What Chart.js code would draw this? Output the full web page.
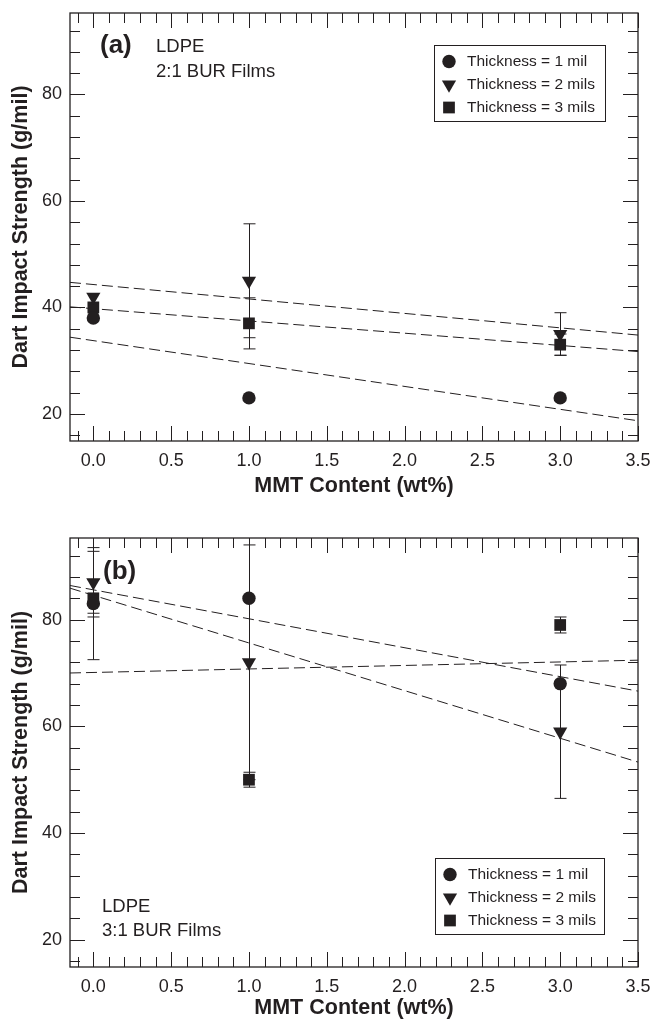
<!DOCTYPE html>
<html>
<head>
<meta charset="utf-8">
<script src="https://cdn.jsdelivr.net/npm/chart.js@4.4.1/dist/chart.umd.min.js"></script>
<style>
  html, body { margin: 0; padding: 0; background: #fff; }
  #wrap { position: relative; width: 653px; height: 1021px; }
  canvas { position: absolute; left: 0; }
  #chartA { top: 0; }
  #chartB { top: 500px; }
</style>
</head>
<body>
<div id="wrap">
  <canvas id="chartA" width="653" height="500"></canvas>
  <canvas id="chartB" width="653" height="521"></canvas>
</div>
<script>
// MMT loading (wt%)
const mmtContent = [0, 1, 3];

// (a) 2:1 BUR films
const burA_1mil = [38, 23, 23];
const burA_2mil = [42, 45, 35];
const burA_3mil = [40, 37, 33];
const burA_1milErr = [0, 0, 0];
const burA_2milErr = [0, 10.7, 4];
const burA_3milErr = [0, 4.8, 2];

// (b) 3:1 BUR films
const burB_1mil = [83, 84, 68];
const burB_2mil = [87, 72, 59];
const burB_3mil = [84, 50, 79];
const burB_1milErr = [10.5, 0, 0];
const burB_2milErr = [5.8, 22, 12.5];
const burB_3milErr = [3.5, 1.4, 1.5];

// linear fits, values at both ends of the x range
const fitX = [-0.15, 3.5];
const burA_1milFit = [34.4, 18.7];
const burA_2milFit = [44.7, 34.8];
const burA_3milFit = [40.1, 31.7];
const burB_1milFit = [86.4, 66.6];
const burB_2milFit = [85.9, 53.3];
const burB_3milFit = [70.0, 72.4];

const seriesLabels = ['Thickness = 1 mil', 'Thickness = 2 mils', 'Thickness = 3 mils'];
const xTickLabels = [0, 0.5, 1, 1.5, 2, 2.5, 3, 3.5];
const yTickLabels = [20, 40, 60, 80];

const INK = '#231f20';
const FONT = "'Liberation Sans', Arial, Helvetica, sans-serif";

const markerStyles = [
  { pointStyle: 'circle', pointRadius: 6.7, pointRotation: 0 },
  { pointStyle: 'triangle', pointRadius: 8.2, pointRotation: 180 },
  { pointStyle: 'rect', pointRadius: 8.3, pointRotation: 0 }
];

// unlabelled ticks: every 0.1 on x, every 4 on y
const xMinor = [];
for (let k = -1; k < 35; k++) if (k % 5 !== 0) xMinor.push(k / 10);
const yMinor = [];
for (let v = 16; v < 95; v += 4) if (v % 20 !== 0) yMinor.push(v);

function drawMarker(ctx, st, x, y) {
  Chart.helpers.drawPoint(ctx, {
    pointStyle: st.pointStyle, radius: st.pointRadius,
    rotation: st.pointRotation, borderWidth: 0
  }, x, y);
}

const framePlugin = {
  id: 'frame',
  // error bars go under the markers
  beforeDatasetsDraw(chart) {
    const { ctx, scales: { x, y } } = chart;
    ctx.save();
    ctx.strokeStyle = INK;
    ctx.lineWidth = 1;
    chart.data.datasets.forEach(ds => {
      if (!ds.errors) return;
      ds.data.forEach((p, j) => {
        const e = ds.errors[j];
        if (!e) return;
        const px = Math.round(x.getPixelForValue(p.x)) + 0.5;
        const top = y.getPixelForValue(p.y + e);
        const bot = y.getPixelForValue(p.y - e);
        ctx.beginPath();
        ctx.moveTo(px, top); ctx.lineTo(px, bot);
        ctx.moveTo(px - 6, top); ctx.lineTo(px + 6, top);
        ctx.moveTo(px - 6, bot); ctx.lineTo(px + 6, bot);
        ctx.stroke();
      });
    });
    ctx.restore();
  },
  afterDraw(chart, args, opts) {
    const { ctx, chartArea: { left, right, top, bottom }, scales: { x, y } } = chart;
    ctx.save();
    ctx.strokeStyle = INK;
    ctx.lineWidth = 1.3;
    ctx.strokeRect(left, top, right - left, bottom - top);

    // inward ticks on all four sides
    ctx.lineWidth = 1;
    ctx.beginPath();
    const xTick = (v, len) => {
      const px = Math.round(x.getPixelForValue(v)) + 0.5;
      ctx.moveTo(px, bottom); ctx.lineTo(px, bottom - len);
      ctx.moveTo(px, top); ctx.lineTo(px, top + len);
    };
    const yTick = (v, len) => {
      const py = Math.round(y.getPixelForValue(v)) + 0.5;
      ctx.moveTo(left, py); ctx.lineTo(left + len, py);
      ctx.moveTo(right, py); ctx.lineTo(right - len, py);
    };
    xTickLabels.forEach(v => xTick(v, 15));
    xMinor.forEach(v => xTick(v, 10));
    yTickLabels.forEach(v => yTick(v, 15));
    yMinor.forEach(v => yTick(v, 10));
    ctx.stroke();

    // panel notes
    ctx.fillStyle = INK;
    ctx.textBaseline = 'middle';
    ctx.textAlign = 'left';
    opts.notes.forEach(n => {
      ctx.font = n.font;
      ctx.fillText(n.text, n.x, n.y);
    });

    // legend box
    const lg = opts.legend;
    ctx.lineWidth = 1;
    ctx.strokeRect(lg.left + 0.5, lg.top + 0.5, lg.width, lg.height);
    ctx.font = '15.5px ' + FONT;
    seriesLabels.forEach((label, i) => {
      const cy = lg.top + 16.5 + i * 23;
      drawMarker(ctx, markerStyles[i], lg.left + 15, cy);
      ctx.fillText(label, lg.left + 33, cy);
    });
    ctx.restore();
  }
};

function makeDatasets(values, errors, fits) {
  const sets = values.map((vals, i) => Object.assign({
    label: seriesLabels[i],
    data: mmtContent.map((m, j) => ({ x: m, y: vals[j] })),
    errors: errors[i],
    showLine: false,
    backgroundColor: INK,
    pointBorderWidth: 0,
    order: 1
  }, markerStyles[i]));
  fits.forEach(f => sets.push({
    data: fitX.map((m, j) => ({ x: m, y: f[j] })),
    showLine: true,
    borderColor: INK,
    borderWidth: 1,
    borderDash: [11, 5],
    pointRadius: 0,
    order: 2
  }));
  return sets;
}

function makeChart(id, datasets, padTop, xAxisHeight, titlePad, frameOpts) {
  return new Chart(document.getElementById(id), {
    type: 'scatter',
    data: { datasets },
    plugins: [framePlugin],
    options: {
      responsive: false,
      animation: false,
      events: [],
      layout: { padding: { top: padTop, right: 15, bottom: 0, left: 0 } },
      plugins: {
        legend: { display: false },
        tooltip: { enabled: false },
        frame: frameOpts
      },
      scales: {
        x: {
          type: 'linear',
          min: -0.15,
          max: 3.5,
          grid: { display: false },
          border: { display: false },
          afterBuildTicks: s => { s.ticks = xTickLabels.map(v => ({ value: v })); },
          afterFit: s => { s.height = xAxisHeight; },
          ticks: {
            color: INK, padding: 1, maxRotation: 0, autoSkip: false,
            font: { family: FONT, size: 18 },
            callback: v => v.toFixed(1)
          },
          title: {
            display: true, text: 'MMT Content (wt%)', color: INK,
            font: { family: FONT, size: 21.5, weight: 'bold' },
            padding: { top: 0, bottom: titlePad }
          }
        },
        y: {
          type: 'linear',
          min: 14.9,
          max: 95.3,
          grid: { display: false },
          border: { display: false },
          afterBuildTicks: s => { s.ticks = yTickLabels.map(v => ({ value: v })); },
          afterFit: s => { s.width = 70; },
          ticks: {
            color: INK, padding: 0,
            font: { family: FONT, size: 18 }
          },
          title: {
            display: true, text: 'Dart Impact Strength (g/mil)', color: INK,
            font: { family: FONT, size: 21.5, weight: 'bold' },
            padding: { top: 8, bottom: 0 }
          }
        }
      }
    }
  });
}

makeChart('chartA',
  makeDatasets([burA_1mil, burA_2mil, burA_3mil],
               [burA_1milErr, burA_2milErr, burA_3milErr],
               [burA_1milFit, burA_2milFit, burA_3milFit]),
  13, 59, 1,
  {
    notes: [
      { text: '(a)', x: 100, y: 46, font: 'bold 26px ' + FONT },
      { text: 'LDPE', x: 156, y: 47, font: '18.5px ' + FONT },
      { text: '2:1 BUR Films', x: 156, y: 72, font: '18.5px ' + FONT }
    ],
    legend: { left: 434, top: 45, width: 171, height: 76 }
  });

makeChart('chartB',
  makeDatasets([burB_1mil, burB_2mil, burB_3mil],
               [burB_1milErr, burB_2milErr, burB_3milErr],
               [burB_1milFit, burB_2milFit, burB_3milFit]),
  38, 54, 0,
  {
    notes: [
      { text: '(b)', x: 103, y: 72, font: 'bold 26px ' + FONT },
      { text: 'LDPE', x: 102, y: 407, font: '18.5px ' + FONT },
      { text: '3:1 BUR Films', x: 102, y: 431, font: '18.5px ' + FONT }
    ],
    legend: { left: 435, top: 358, width: 169, height: 76 }
  });
</script>
</body>
</html>
